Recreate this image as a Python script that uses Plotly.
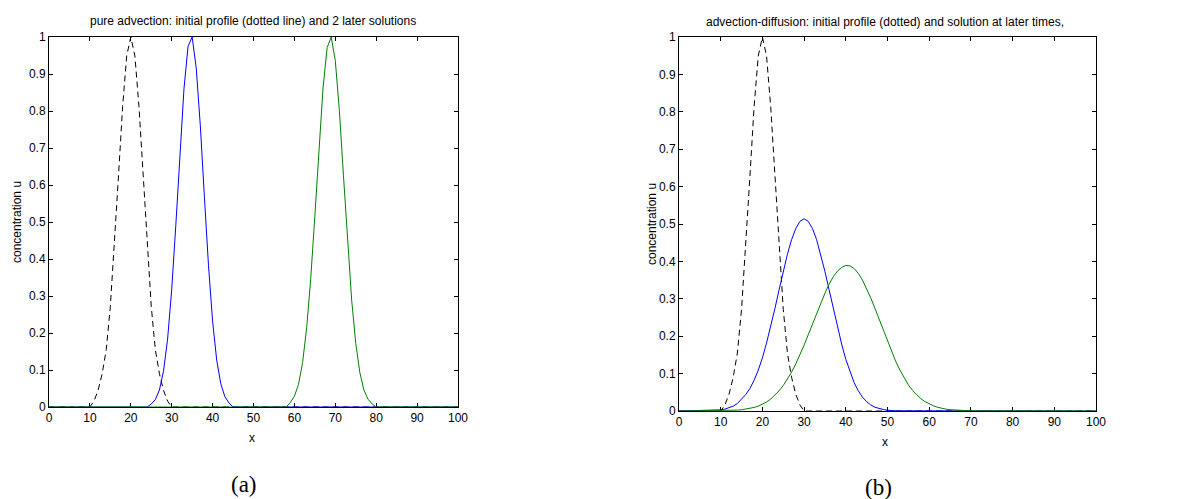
import plotly.graph_objects as go

# ---------------- data ----------------
x_ticks = [0, 10, 20, 30, 40, 50, 60, 70, 80, 90, 100]
x_ticktext = ["0", "10", "20", "30", "40", "50", "60", "70", "80", "90", "100"]
y_ticks = [0, 0.1, 0.2, 0.3, 0.4, 0.5, 0.6, 0.7, 0.8, 0.9, 1.0]
y_ticktext = ["0", "0.1", "0.2", "0.3", "0.4", "0.5", "0.6", "0.7", "0.8", "0.9", "1"]

# initial profile (both panels)
init_x = [0, 10, 11, 12, 13, 14, 15, 16, 17, 18, 19, 20,
          21, 22, 23, 24, 25, 26, 27, 28, 29, 30, 100]
init_u = [0, 0, 0.016, 0.045, 0.09, 0.155, 0.272, 0.435, 0.626, 0.812, 0.949, 1.0,
          0.949, 0.812, 0.626, 0.435, 0.272, 0.155, 0.09, 0.045, 0.016, 0, 0]

# panel (a): pure advection, two later solutions
adv1_x = [0, 24, 25, 26, 27, 28, 29, 30, 31, 32, 33, 34, 35,
          36, 37, 38, 39, 40, 41, 42, 43, 44, 45, 100]
adv1_u = [0, 0, 0.008, 0.02, 0.046, 0.097, 0.184, 0.317, 0.49, 0.684, 0.86, 0.975, 1.0,
          0.916, 0.76, 0.567, 0.382, 0.232, 0.127, 0.063, 0.028, 0.011, 0, 0]

adv2_x = [0, 58, 59, 60, 61, 62, 63, 64, 65, 66, 67, 68, 69,
          70, 71, 72, 73, 74, 75, 76, 77, 78, 79, 80, 100]
adv2_u = [0, 0, 0.012, 0.029, 0.061, 0.12, 0.214, 0.348, 0.516, 0.698, 0.862, 0.971, 1.0,
          0.936, 0.801, 0.625, 0.445, 0.289, 0.172, 0.093, 0.046, 0.021, 0.0085, 0, 0]

# panel (b): advection-diffusion, two later solutions
diff1_x = [0, 8, 9, 10, 11, 12, 13, 14, 15, 16, 17, 18, 19, 20, 21, 22, 23, 24, 25,
           26, 27, 28, 29, 30, 31, 32, 33, 34, 35, 36, 37, 38, 39, 40, 41, 42, 43,
           44, 45, 46, 47, 48, 49, 50, 51, 52, 100]
diff1_u = [0, 0.001, 0.002, 0.003, 0.005, 0.008, 0.013, 0.020, 0.031, 0.044, 0.060,
           0.082, 0.109, 0.142, 0.182, 0.226, 0.274, 0.324, 0.373, 0.419, 0.458, 0.488,
           0.507, 0.514, 0.507, 0.488, 0.458, 0.419, 0.373, 0.324, 0.274, 0.224, 0.179,
           0.138, 0.104, 0.076, 0.054, 0.037, 0.025, 0.016, 0.010, 0.006, 0.004, 0.002,
           0.001, 0.0005, 0]

diff2_x = [0, 12, 13, 14, 15, 16, 17, 18, 19, 20, 21, 22, 23, 24, 25, 26, 27, 28, 29,
           30, 31, 32, 33, 34, 35, 36, 37, 38, 39, 40, 41, 42, 43, 44, 45, 46, 47, 48,
           49, 50, 51, 52, 53, 54, 55, 56, 57, 58, 59, 60, 61, 62, 63, 64, 65, 66, 67,
           68, 69, 70, 100]
diff2_u = [0, 0.001, 0.0015, 0.0023, 0.0033, 0.0047, 0.0068, 0.0095, 0.013, 0.018,
           0.024, 0.032, 0.042, 0.054, 0.068, 0.085, 0.104, 0.126, 0.150, 0.176, 0.204,
           0.233, 0.261, 0.289, 0.315, 0.339, 0.359, 0.374, 0.384, 0.389, 0.388, 0.381,
           0.368, 0.350, 0.328, 0.302, 0.274, 0.245, 0.215, 0.186, 0.158, 0.132, 0.109,
           0.088, 0.070, 0.055, 0.043, 0.033, 0.025, 0.019, 0.014, 0.010, 0.007, 0.005,
           0.0035, 0.0025, 0.0017, 0.0011, 0.0007, 0.0004, 0]

title_a = "pure advection: initial profile (dotted line) and 2 later solutions"
title_b = "advection-diffusion: initial profile (dotted) and solution at later times,"
ylabel = "concentration u"
xlabel = "x"

# ---------------- figure ----------------
# the page body has an 8 px margin, so the figure is shifted by OFF px
OFF = 8
W, H = 1187 - OFF, 499 - OFF
SANS = "Liberation Sans, Arial, Helvetica, sans-serif"
SERIF = "Liberation Serif, Times New Roman, serif"
BLUE = "#0000ff"
GREEN = "#008000"

fig = go.Figure()

def add_panel(xa, ya, series):
    for xs, us, color, dash in series:
        fig.add_trace(go.Scatter(x=xs, y=us, mode="lines", xaxis=xa, yaxis=ya,
                                 line=dict(color=color, width=1, dash=dash),
                                 showlegend=False, hoverinfo="skip"))

add_panel("x", "y", [(init_x, init_u, "black", "6px,4px"),
                     (adv1_x, adv1_u, BLUE, "solid"),
                     (adv2_x, adv2_u, GREEN, "solid")])
add_panel("x2", "y2", [(init_x, init_u, "black", "6px,4px"),
                       (diff1_x, diff1_u, BLUE, "solid"),
                       (diff2_x, diff2_u, GREEN, "solid")])

def px(v):
    return (v - OFF) / W

def py(v):
    return 1 - (v - OFF) / H

axis_common = dict(showline=True, linecolor="black", linewidth=1, mirror="ticks",
                   ticks="inside", ticklen=4, tickcolor="black", tickwidth=1,
                   showgrid=False, zeroline=False, layer="below traces",
                   automargin=False, fixedrange=True,
                   tickfont=dict(family=SANS, size=12, color="black"))

fig.update_layout(
    template="none",
    width=W, height=H, autosize=False,
    margin=dict(l=0, r=0, t=0, b=0, pad=0, autoexpand=False),
    paper_bgcolor="white", plot_bgcolor="white", showlegend=False,
    xaxis=dict(domain=[px(49), px(458)], range=[0, 100], anchor="y",
               tickvals=x_ticks, ticktext=x_ticktext, **axis_common),
    yaxis=dict(domain=[py(407), py(37)], range=[0, 1], anchor="x",
               tickvals=y_ticks, ticktext=y_ticktext, **axis_common),
    xaxis2=dict(domain=[px(679), px(1096)], range=[0, 100], anchor="y2",
                tickvals=x_ticks, ticktext=x_ticktext, **axis_common),
    yaxis2=dict(domain=[py(411), py(37)], range=[0, 1], anchor="x2",
                tickvals=y_ticks, ticktext=y_ticktext, **axis_common),
)

def note(text, x, y, size, family=SANS, angle=0):
    fig.add_annotation(text=text, x=px(x), y=py(y), xref="paper", yref="paper",
                       showarrow=False, xanchor="center", yanchor="middle",
                       textangle=angle, font=dict(family=family, size=size, color="black"))

note(title_a, 253, 21, 12)
note(title_b, 885, 22, 12)
note(xlabel, 252, 438, 12)
note(xlabel, 885, 442, 12)
note(ylabel, 17, 222, 12, angle=-90)
note(ylabel, 652, 224, 12, angle=-90)
note("(a)", 244, 484, 23, family=SERIF)
note("(b)", 878, 487, 23, family=SERIF)

fig.write_html("out.html", config={"displayModeBar": False})
